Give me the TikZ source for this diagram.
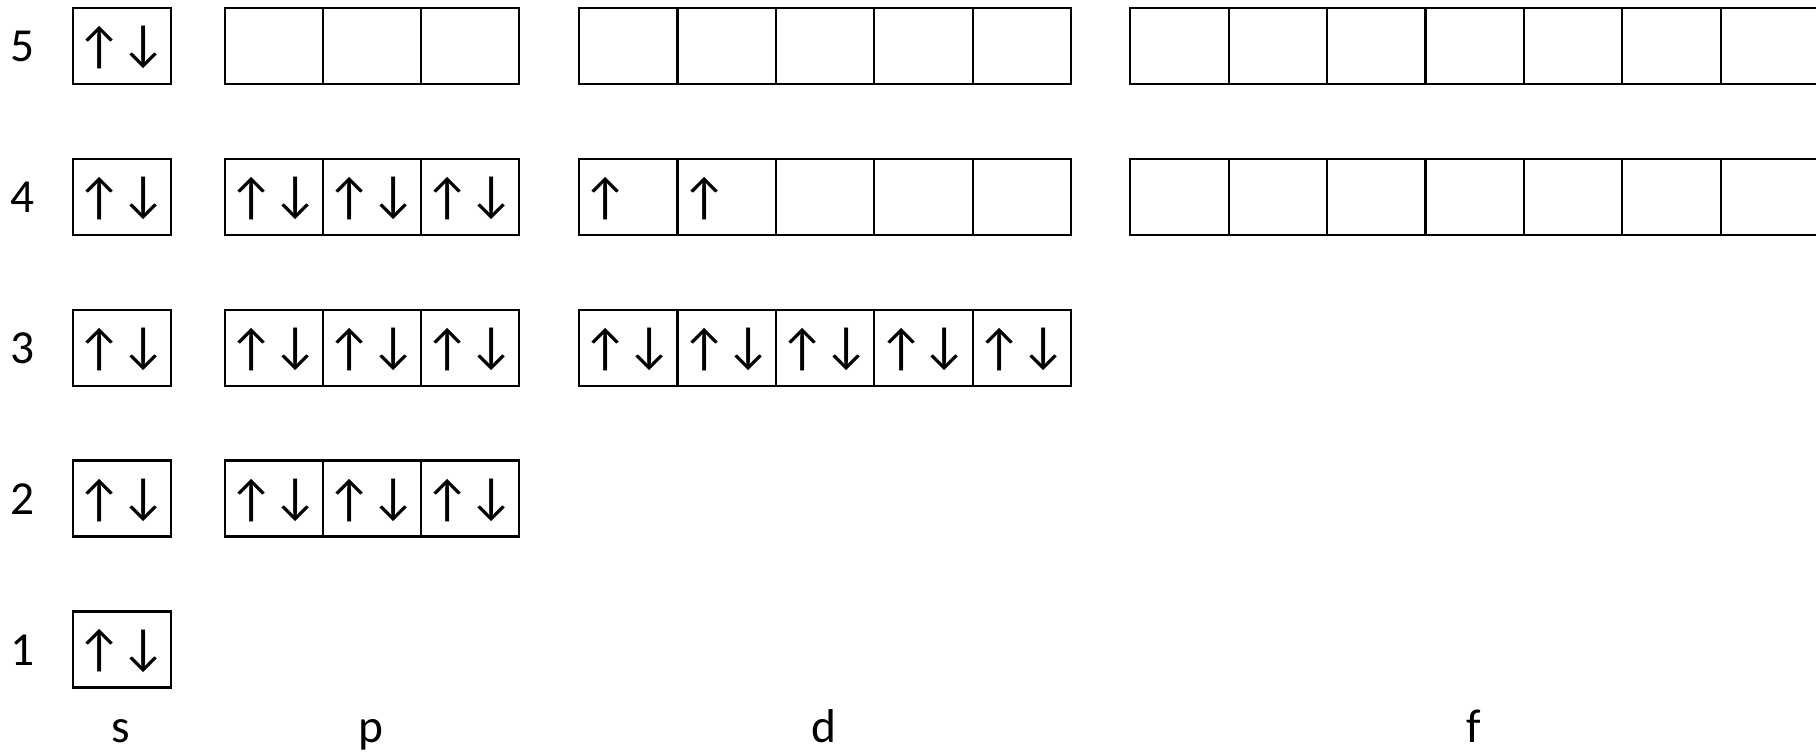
\documentclass[tikz,border=0pt]{standalone}
\usepackage{fontspec}
\setmainfont{Carlito}
\begin{document}
\begin{tikzpicture}[x=0.5pt,y=-0.5pt,
  cell/.style={draw,line width=1.1pt,minimum width=49.2pt,minimum height=38pt,inner sep=0pt,anchor=west},
  lbl/.style={font=\fontsize{23.7}{28}\selectfont,anchor=base,inner sep=0pt},
  spin/.style={font=\fontsize{25.5}{28}\selectfont,inner sep=0pt}]
\useasboundingbox[fill=white] (0,0) rectangle (1816,752);
% s column
\foreach \n in {1,...,5}{
  \pgfmathsetmacro\yy{45.8+150.9*(5-\n)}
  \node[lbl] (n\n) at (22.5,\yy+15.8) {\n};
  \node[cell] (s\n) at (71.5,\yy) {};
  \node[spin] (s\n u) at ([xshift=14pt,yshift=-0.8pt]s\n.west) {↑};
  \node[spin] (s\n d) at ([xshift=35.85pt,yshift=-0.8pt]s\n.west) {↓};
}
% p column
\foreach \n in {2,...,5}{
  \pgfmathsetmacro\yy{45.8+150.9*(5-\n)}
  \foreach \i in {1,2,3}{
    \node[cell] (p\n-\i) at ({223.5+98.1*(\i-1)},\yy) {};
  }
}
\foreach \n in {2,3,4}{
  \foreach \i in {1,2,3}{
    \node[spin] (p\n-\i u) at ([xshift=14pt,yshift=-0.8pt]p\n-\i.west) {↑};
    \node[spin] (p\n-\i d) at ([xshift=35.85pt,yshift=-0.8pt]p\n-\i.west) {↓};
  }
}
% d column
\foreach \n in {3,4,5}{
  \pgfmathsetmacro\yy{45.8+150.9*(5-\n)}
  \foreach \i in {1,...,5}{
    \node[cell] (d\n-\i) at ({578+98.4*(\i-1)},\yy) {};
  }
}
\foreach \i in {1,...,5}{
  \node[spin] (d3-\i u) at ([xshift=14pt,yshift=-0.8pt]d3-\i.west) {↑};
  \node[spin] (d3-\i d) at ([xshift=35.85pt,yshift=-0.8pt]d3-\i.west) {↓};
}
\node[spin] (d4-1u) at ([xshift=14pt,yshift=-0.8pt]d4-1.west) {↑};
\node[spin] (d4-2u) at ([xshift=14pt,yshift=-0.8pt]d4-2.west) {↑};
% f column
\foreach \n in {4,5}{
  \pgfmathsetmacro\yy{45.8+150.9*(5-\n)}
  \foreach \i in {1,...,7}{
    \node[cell] (f\n-\i) at ({1129.2+98.4*(\i-1)},\yy) {};
  }
}
% column labels
\node[lbl] (ls) at (121,742) {s};
\node[lbl] (lp) at (370.6,742) {p};
\node[lbl] (ld) at (824,742) {d};
\node[lbl] (lf) at (1473.6,742) {f};
\end{tikzpicture}
\end{document}
